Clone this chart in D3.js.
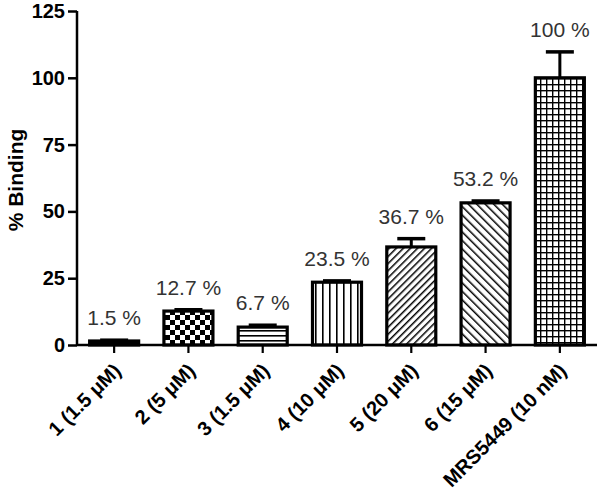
<!DOCTYPE html>
<html>
<head>
<meta charset="utf-8">
<script src="https://cdn.jsdelivr.net/npm/d3@7"></script>
<style>
  body { margin: 0; background: #fff; }
  svg { display: block; font-family: Arial, "Liberation Sans", sans-serif; }
</style>
</head>
<body>
<svg id="chart" width="600" height="495"></svg>
<script>
const categories = ["1 (1.5 \u03BCM)", "2 (5 \u03BCM)", "3 (1.5 \u03BCM)", "4 (10 \u03BCM)", "5 (20 \u03BCM)", "6 (15 \u03BCM)", "MRS5449 (10 nM)"];
const values = [1.5, 12.7, 6.7, 23.5, 36.7, 53.2, 100];
const errors = [0.3, 0.5, 0.7, 0.5, 3.1, 0.7, 9.7];
const valueLabels = ["1.5 %", "12.7 %", "6.7 %", "23.5 %", "36.7 %", "53.2 %", "100 %"];
const patternNames = ["solid", "checker", "hlines", "vlines", "diagR", "diagL", "grid"];
const yTicks = [0, 25, 50, 75, 100, 125];

const svg = d3.select("#chart");
const x0 = 77, x1 = 597, yBase = 345, yTop = 11;

const x = d3.scaleBand().domain(categories).range([x0, x1]).paddingInner(0.3).paddingOuter(0.15);
const y = d3.scaleLinear().domain([0, 125]).range([yBase, yTop]);

// patterns
const defs = svg.append("defs");
function pat(id, w, h) {
  return defs.append("pattern").attr("id", id).attr("patternUnits", "userSpaceOnUse")
    .attr("width", w).attr("height", h);
}
let p;
p = pat("solid", 4, 4); p.append("rect").attr("width", 4).attr("height", 4).attr("fill", "#000");
p = pat("checker", 10, 10);
p.append("rect").attr("width", 10).attr("height", 10).attr("fill", "#fff");
p.append("rect").attr("width", 5).attr("height", 5).attr("fill", "#000");
p.append("rect").attr("x", 5).attr("y", 5).attr("width", 5).attr("height", 5).attr("fill", "#000");
p = pat("hlines", 5, 5);
p.append("rect").attr("width", 5).attr("height", 5).attr("fill", "#fff");
p.append("rect").attr("y", 0).attr("width", 5).attr("height", 1.6).attr("fill", "#000");
p = pat("vlines", 7, 7);
p.append("rect").attr("width", 7).attr("height", 7).attr("fill", "#fff");
p.append("rect").attr("x", 0).attr("width", 1.6).attr("height", 7).attr("fill", "#000");
p = pat("diagR", 5, 5).attr("patternTransform", "rotate(45)");
p.append("rect").attr("width", 5).attr("height", 5).attr("fill", "#fff");
p.append("rect").attr("width", 1.5).attr("height", 5).attr("fill", "#000");
p = pat("diagL", 6, 6).attr("patternTransform", "rotate(-45)");
p.append("rect").attr("width", 6).attr("height", 6).attr("fill", "#fff");
p.append("rect").attr("width", 1.5).attr("height", 6).attr("fill", "#000");
p = pat("grid", 6, 6);
p.append("rect").attr("width", 6).attr("height", 6).attr("fill", "#fff");
p.append("rect").attr("width", 6).attr("height", 1.4).attr("fill", "#000");
p.append("rect").attr("width", 1.4).attr("height", 6).attr("fill", "#000");

const data = categories.map((c, i) => ({ c, v: values[i], e: errors[i], l: valueLabels[i], p: patternNames[i] }));

// error bars (upper)
const eg = svg.append("g");
data.forEach(d => {
  const cx = x(d.c) + x.bandwidth() / 2;
  eg.append("line").attr("x1", cx).attr("x2", cx).attr("y1", y(d.v)).attr("y2", y(d.v + d.e))
    .attr("stroke", "#000").attr("stroke-width", 3);
  eg.append("line").attr("x1", cx - 14).attr("x2", cx + 14).attr("y1", y(d.v + d.e)).attr("y2", y(d.v + d.e))
    .attr("stroke", "#000").attr("stroke-width", 3.5);
});

svg.append("g").selectAll("rect").data(data).join("rect")
  .attr("x", d => x(d.c) + 1.5)
  .attr("width", x.bandwidth() - 3)
  .attr("y", d => y(d.v))
  .attr("height", d => yBase - y(d.v))
  .attr("fill", d => `url(#${d.p})`)
  .attr("stroke", "#000").attr("stroke-width", 3.2);

// value labels
svg.append("g").selectAll("text").data(data).join("text")
  .attr("x", d => x(d.c) + x.bandwidth() / 2)
  .attr("y", d => y(d.v + d.e) - 15)
  .attr("text-anchor", "middle")
  .attr("font-size", 21)
  .attr("fill", "#333")
  .text(d => d.l);

// y axis
const yAxis = svg.append("g").attr("transform", `translate(${x0},0)`)
  .call(d3.axisLeft(y).tickValues(yTicks).tickSize(9).tickPadding(3));
yAxis.select(".domain").attr("stroke-width", 2.5).attr("d", `M0,${yTop}V${yBase}`);
yAxis.selectAll(".tick line").attr("stroke-width", 2.5);
yAxis.selectAll(".tick text").attr("font-size", 20).attr("font-weight", "bold").attr("fill", "#000")
  .attr("font-family", "Arial, 'Liberation Sans', sans-serif");

// x axis
const xAxis = svg.append("g").attr("transform", `translate(0,${yBase})`)
  .call(d3.axisBottom(x).tickSize(8).tickFormat(""));
xAxis.select(".domain").attr("stroke-width", 2.5).attr("d", `M${x0},0H${x1}`);
xAxis.selectAll(".tick line").attr("stroke-width", 2.2);

// x labels rotated
svg.append("g").selectAll("text").data(categories).join("text")
  .attr("transform", c => `translate(${x(c) + x.bandwidth() / 2 + 3},${yBase + 22}) rotate(-45)`)
  .attr("text-anchor", "end")
  .attr("dy", "0.35em")
  .attr("font-size", 20)
  .attr("font-weight", "bold")
  .attr("fill", "#000")
  .text(c => c);

// y title
svg.append("text")
  .attr("transform", "translate(23,180) rotate(-90)")
  .attr("text-anchor", "middle")
  .attr("font-size", 21)
  .attr("font-weight", "bold")
  .attr("fill", "#000")
  .text("% Binding");
</script>
</body>
</html>
